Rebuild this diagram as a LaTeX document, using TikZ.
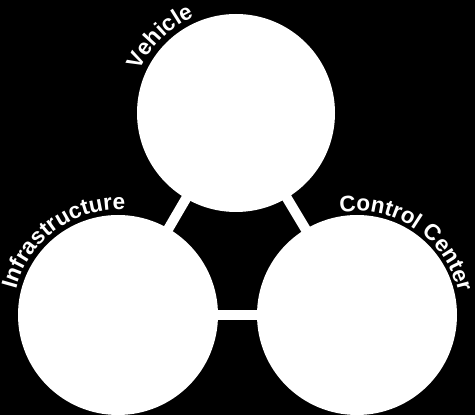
\documentclass[tikz,border=0pt]{standalone}
\usepackage{fontspec}
\setmainfont{Liberation Sans}
\usetikzlibrary{decorations.text,calc,backgrounds}
\begin{document}
\begin{tikzpicture}[x=1pt,y=1pt,
  disc/.style={circle, fill=white, inner sep=0pt, minimum size=#1},
  link/.style={draw=white, line width=10pt},
  lbl/.style={decorate, decoration={text along path, text align=center,
    text={|\color{white}\bfseries\fontsize{22.5}{26}\selectfont|#1}}}]
\useasboundingbox (0,0) rectangle (475,415);
\node[disc=198pt] (veh) at (236,302) {};
\node[disc=200pt] (inf) at (118,100) {};
\node[disc=200pt] (ctl) at (357,100) {};
\begin{scope}[on background layer]
  \fill[black] (0,0) rectangle (475,415);
  \draw[link] (veh.center) -- (inf.center);
  \draw[link] (veh.center) -- (ctl.center);
  \draw[link] (inf.center) -- (ctl.center);
\end{scope}
\path[lbl=Vehicle] ($(veh.center)+(175:105)$) arc[start angle=175,end angle=95,radius=105];
\path[lbl=Infrastructure] ($(inf.center)+(180:105)$) arc[start angle=180,end angle=72,radius=105];
\path[lbl=Control Center] ($(ctl.center)+(112:104)$) arc[start angle=112,end angle=0,radius=104];
\end{tikzpicture}
\end{document}
